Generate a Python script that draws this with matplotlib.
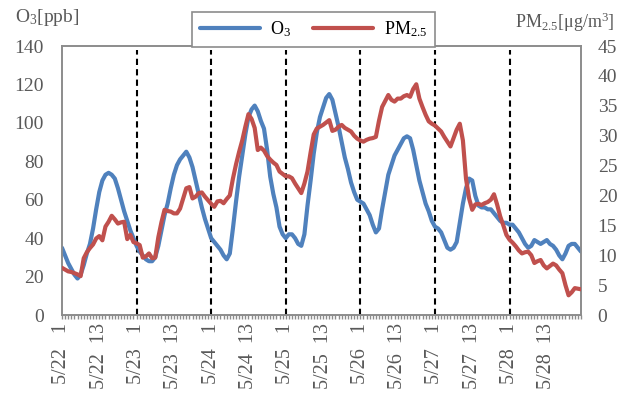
import numpy as np
import matplotlib
matplotlib.use("Agg")
import matplotlib.pyplot as plt

plt.rcParams['font.family'] = ['Liberation Serif', 'DejaVu Serif']
plt.rcParams['mathtext.fontset'] = 'custom'
plt.rcParams['mathtext.rm'] = 'Liberation Serif'
plt.rcParams['mathtext.it'] = 'Liberation Serif:italic'

# 時刻データ (5/22 1時 〜 5/28 24時, 1時間ごと)
days = ['5/22', '5/23', '5/24', '5/25', '5/26', '5/27', '5/28']

o3 = [35, 31, 27, 24, 21, 19, 21, 26, 32, 37, 45, 55, 64, 70, 73, 74, 73, 71, 66, 60,
      54, 49, 44, 40, 36, 33, 31, 29, 28, 28, 30, 36, 44, 52, 58, 66, 73, 78, 81, 83,
      85, 82, 77, 70, 63, 56, 50, 45, 40, 38, 36, 34, 31, 29, 32, 45, 59, 72, 83, 94,
      103, 107, 109, 106, 101, 97, 86, 72, 63, 56, 46, 42, 40, 42, 42, 40, 37, 36, 42, 57,
      70, 84, 95, 103, 108, 113, 115, 112, 105, 98, 90, 82, 76, 69, 64, 60, 59, 58, 55, 52,
      47, 43, 45, 55, 64, 73, 78, 83, 86, 89, 92, 93, 92, 86, 78, 70, 64, 58, 54, 49,
      46, 45, 43, 39, 35, 34, 35, 38, 48, 58, 66, 71, 70, 62, 57, 56, 56, 55, 55, 53,
      51, 49, 48, 48, 47, 47, 45, 43, 40, 37, 35, 36, 39, 38, 37, 38, 39, 37, 36, 34,
      31, 29, 32, 36, 37, 37, 35, 33]

pm25 = [7.9, 7.6, 7.3, 7.2, 7.0, 6.8, 6.5, 9.5, 10.5, 11.2, 11.8, 12.8, 13.2, 12.5, 14.8,
        15.6, 16.6, 16.0, 15.3, 15.5, 15.6, 12.7, 13.4, 12.2, 12.0, 11.7, 9.6, 9.8, 10.3, 9.5,
        9.6, 13.0, 15.5, 17.6, 17.4, 17.3, 17.0, 17.0, 17.8, 19.5, 21.2, 21.4, 19.5, 19.8, 20.4,
        20.5, 19.8, 19.2, 18.6, 18.1, 19.0, 19.1, 18.7, 19.4, 20.0, 22.8, 25.2, 27.3, 29.2, 31.5,
        33.6, 32.8, 31.3, 27.6, 28.0, 27.5, 26.6, 26.0, 25.5, 25.1, 24.0, 23.6, 23.2, 23.2, 22.9,
        22.0, 21.2, 20.4, 22.0, 24.0, 27.2, 30.2, 31.2, 31.5, 31.8, 32.2, 32.6, 30.8, 31.0, 31.5,
        31.8, 31.3, 31.0, 30.7, 30.0, 29.5, 29.2, 29.0, 29.3, 29.5, 29.6, 29.8, 32.5, 34.8, 35.8,
        36.8, 36.0, 35.7, 36.2, 36.2, 36.6, 36.8, 36.5, 37.8, 38.6, 36.2, 34.8, 33.5, 32.4, 32.0,
        31.7, 31.2, 30.7, 29.8, 29.0, 28.2, 29.6, 31.0, 32.0, 29.2, 22.8, 19.5, 17.6, 18.5, 18.6,
        18.4, 18.7, 18.9, 19.3, 20.2, 18.5, 16.5, 15.0, 13.4, 12.6, 12.1, 11.5, 10.8, 10.3, 10.5,
        10.6, 10.0, 8.7, 9.0, 9.2, 8.3, 7.8, 8.2, 8.6, 8.3, 7.6, 7.0, 5.0, 3.3, 3.8,
        4.5, 4.4, 4.3]

x = np.arange(len(o3))
labels = []
for d in days:
    labels.append(d + '   1')
    labels.append(d + '  13')

gray = '#595959'
spine = '#8c8c8c'

fig = plt.figure(figsize=(6.21, 3.98), dpi=100)
ax1 = fig.add_axes([0.0998, 0.2085, 0.8358, 0.6759])
ax2 = ax1.twinx()

for i in range(1, 7):
    ax1.axvline(24 * i, ymin=0, ymax=0.985, color='black', lw=1.5,
                linestyle=(0, (3, 2)), zorder=1)

l1, = ax1.plot(x, o3, color='#4F81BD', lw=3, solid_joinstyle='round',
               solid_capstyle='round', zorder=3)
l2, = ax2.plot(x, pm25, color='#C0504D', lw=3, solid_joinstyle='round',
               solid_capstyle='round', zorder=3)

ax1.set_xlim(0, len(o3) - 1)
ax1.set_ylim(0, 140)
ax2.set_ylim(0, 45)
ax1.set_yticks(np.arange(0, 141, 20))
ax2.set_yticks(np.arange(0, 46, 5))

ax1.set_xticks(np.arange(0, len(o3), 12))
ax1.set_xticklabels(labels, rotation=90, fontsize=14.5, color=gray)
ax1.set_xticks(x, minor=True)
ax1.tick_params(axis='x', which='both', length=3, width=1, color=spine,
                direction='out', pad=3)
ax1.tick_params(axis='y', length=0, labelsize=14, labelcolor=gray, pad=13)
ax2.tick_params(axis='y', length=0, labelsize=14, labelcolor=gray, pad=12)

for ax in (ax1, ax2):
    for s in ax.spines.values():
        s.set_color(spine)
        s.set_linewidth(1.2)

fig.text(0.024, 0.955, 'O$_\\mathregular{3}$[ppb]', fontsize=14, color=gray,
         ha='left', va='center')
fig.text(0.99, 0.945, 'PM$_\\mathregular{2.5}$[μg/m$^\\mathregular{3}$]', fontsize=13,
         color=gray, ha='right', va='center')

leg = fig.legend([l1, l2], ['O$_\\mathregular{3}$', 'PM$_\\mathregular{2.5}$'],
                 loc='center', bbox_to_anchor=(313.5 / 621, 1 - 29.5 / 398), ncol=2,
                 fontsize=13, frameon=True, fancybox=False, edgecolor=spine,
                 framealpha=1, handlelength=3.3, columnspacing=1.2,
                 borderpad=0.45, handletextpad=0.6)
leg.get_frame().set_linewidth(1.2)
leg.set_zorder(10)

fig.savefig('out.png', dpi=100)
